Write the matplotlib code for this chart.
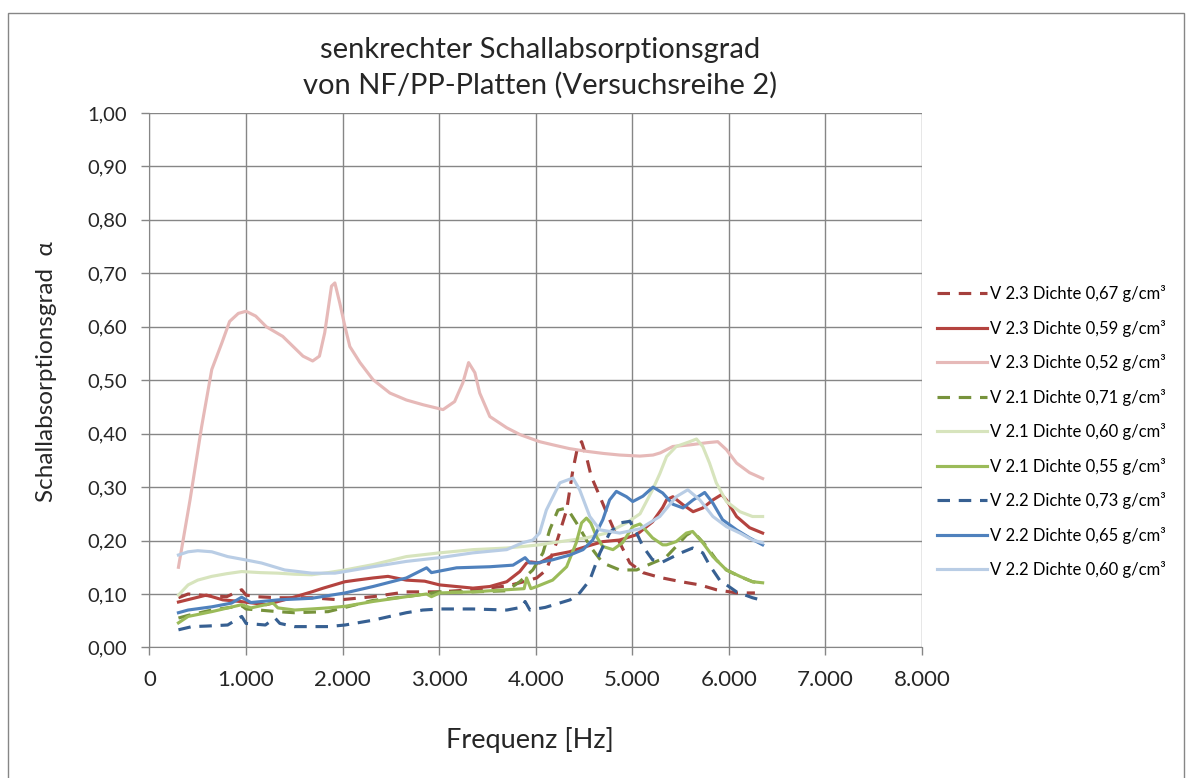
import matplotlib
matplotlib.use("Agg")
import matplotlib.pyplot as plt
from matplotlib.patches import Rectangle

# measured absorption coefficients (read per series: frequency in Hz, alpha)
f_v23_067 = [300, 400, 600, 800, 955, 1000, 1100, 1330, 1680, 1970, 2315, 2660, 3005, 3350,
             3700, 3835, 4010, 4110, 4215, 4320, 4385, 4435, 4475, 4525, 4575, 4665, 4765,
             4870, 4975, 5110, 5285, 5505, 5700, 5870, 6080, 6270]
a_v23_067 = [0.093, 0.100, 0.097, 0.095, 0.108, 0.098, 0.095, 0.093, 0.093, 0.089, 0.095, 0.104,
             0.104, 0.108, 0.115, 0.121, 0.130, 0.145, 0.196, 0.257, 0.332, 0.376, 0.385, 0.357,
             0.320, 0.282, 0.239, 0.196, 0.158, 0.140, 0.131, 0.123, 0.117, 0.108, 0.102, 0.102]

f_v23_059 = [300, 590, 760, 940, 1210, 1455, 1680, 1800, 2025, 2145, 2315, 2470, 2660, 2850,
             3005, 3350, 3525, 3700, 3835, 3905, 3950, 4040, 4180, 4350, 4525, 4695, 4870,
             5045, 5210, 5315, 5355, 5420, 5525, 5630, 5730, 5835, 5925, 5975, 6080, 6215, 6350]
a_v23_059 = [0.085, 0.098, 0.089, 0.086, 0.080, 0.092, 0.104, 0.111, 0.123, 0.126, 0.130, 0.133,
             0.126, 0.124, 0.117, 0.111, 0.114, 0.123, 0.142, 0.158, 0.160, 0.158, 0.173, 0.179,
             0.189, 0.198, 0.201, 0.211, 0.235, 0.262, 0.276, 0.282, 0.267, 0.254, 0.261, 0.276,
             0.286, 0.276, 0.245, 0.224, 0.214]

f_v23_052 = [300, 420, 540, 645, 750, 830, 920, 1000, 1100, 1210, 1380, 1590, 1690, 1760,
             1815, 1885, 1920, 1970, 2025, 2075, 2180, 2315, 2490, 2660, 2835, 3040, 3160,
             3245, 3305, 3370, 3420, 3525, 3700, 3840, 4040, 4180, 4350, 4525, 4700, 4870,
             5080, 5215, 5290, 5420, 5595, 5770, 5885, 5975, 6080, 6215, 6350]
a_v23_052 = [0.150, 0.276, 0.413, 0.520, 0.570, 0.610, 0.625, 0.629, 0.620, 0.600, 0.582, 0.545,
             0.536, 0.545, 0.589, 0.676, 0.682, 0.645, 0.600, 0.563, 0.533, 0.501, 0.476, 0.463,
             0.454, 0.445, 0.460, 0.495, 0.533, 0.514, 0.476, 0.432, 0.411, 0.398, 0.385, 0.379,
             0.372, 0.367, 0.363, 0.360, 0.358, 0.360, 0.364, 0.376, 0.379, 0.383, 0.385, 0.370,
             0.345, 0.327, 0.316]

f_v21_071 = [300, 400, 645, 955, 1000, 1330, 1500, 1850, 2315, 2660, 3005, 3350, 3700, 3835,
             3970, 4075, 4145, 4230, 4300, 4355, 4450, 4560, 4695, 4870, 5045, 5210, 5290,
             5355, 5455, 5560, 5625, 5690, 5770, 5870, 5975, 6110, 6245, 6350]
a_v21_071 = [0.055, 0.060, 0.070, 0.078, 0.072, 0.067, 0.065, 0.067, 0.088, 0.095, 0.104, 0.104,
             0.106, 0.123, 0.145, 0.177, 0.220, 0.257, 0.260, 0.252, 0.225, 0.190, 0.158, 0.145,
             0.145, 0.158, 0.164, 0.170, 0.189, 0.210, 0.217, 0.205, 0.189, 0.164, 0.145, 0.133,
             0.123, 0.120]

f_v21_060 = [300, 400, 500, 645, 800, 955, 1150, 1330, 1500, 1680, 1850, 2025, 2315, 2660,
             3005, 3350, 3700, 4040, 4180, 4525, 4735, 4940, 5080, 5210, 5285, 5355, 5455,
             5595, 5665, 5730, 5800, 5870, 5975, 6115, 6245, 6350]
a_v21_060 = [0.098, 0.117, 0.126, 0.133, 0.138, 0.142, 0.140, 0.139, 0.137, 0.136, 0.140, 0.145,
             0.155, 0.170, 0.177, 0.183, 0.186, 0.192, 0.196, 0.205, 0.214, 0.233, 0.250, 0.295,
             0.325, 0.357, 0.376, 0.385, 0.390, 0.376, 0.345, 0.308, 0.273, 0.254, 0.245, 0.245]

f_v21_055 = [300, 400, 645, 955, 1050, 1280, 1330, 1505, 1850, 2025, 2315, 2660, 2870, 2920,
             3005, 3350, 3700, 3880, 3905, 3950, 4010, 4175, 4320, 4420, 4475, 4525, 4570,
             4630, 4695, 4800, 4900, 5005, 5080, 5210, 5315, 5355, 5455, 5560, 5625, 5730,
             5835, 5975, 6115, 6245, 6350]
a_v21_055 = [0.046, 0.058, 0.067, 0.080, 0.074, 0.083, 0.074, 0.070, 0.074, 0.077, 0.086, 0.095,
             0.100, 0.095, 0.102, 0.104, 0.108, 0.110, 0.130, 0.110, 0.114, 0.126, 0.151, 0.196,
             0.233, 0.242, 0.233, 0.207, 0.189, 0.183, 0.196, 0.226, 0.231, 0.205, 0.192, 0.192,
             0.198, 0.214, 0.217, 0.196, 0.170, 0.145, 0.133, 0.123, 0.121]

f_v22_073 = [300, 440, 590, 810, 955, 1000, 1200, 1300, 1350, 1500, 1850, 2025, 2315, 2660,
             2830, 3005, 3350, 3700, 3850, 3890, 3940, 4100, 4355, 4455, 4560, 4665, 4765,
             4870, 4975, 5045, 5110, 5210, 5315, 5505, 5625, 5730, 5800, 5905, 6080, 6245, 6350]
a_v22_073 = [0.033, 0.039, 0.040, 0.042, 0.058, 0.045, 0.042, 0.055, 0.045, 0.039, 0.039, 0.042,
             0.051, 0.065, 0.070, 0.072, 0.072, 0.070, 0.075, 0.086, 0.070, 0.075, 0.089, 0.102,
             0.126, 0.177, 0.214, 0.233, 0.236, 0.214, 0.189, 0.164, 0.160, 0.177, 0.186, 0.177,
             0.154, 0.126, 0.104, 0.093, 0.088]

f_v22_065 = [300, 400, 645, 850, 955, 1050, 1330, 1680, 2025, 2315, 2660, 2870, 2920, 3180,
             3525, 3765, 3890, 3940, 4010, 4175, 4355, 4490, 4590, 4695, 4765, 4835, 4940,
             5005, 5110, 5215, 5315, 5420, 5525, 5630, 5750, 5835, 5935, 6080, 6215, 6350]
a_v22_065 = [0.065, 0.070, 0.076, 0.083, 0.094, 0.084, 0.089, 0.092, 0.102, 0.114, 0.130, 0.149,
             0.140, 0.149, 0.151, 0.154, 0.168, 0.158, 0.158, 0.164, 0.173, 0.183, 0.201, 0.239,
             0.276, 0.292, 0.282, 0.273, 0.283, 0.300, 0.289, 0.268, 0.261, 0.276, 0.290, 0.270,
             0.239, 0.220, 0.205, 0.192]

f_v22_060 = [300, 400, 500, 645, 810, 990, 1160, 1400, 1680, 1920, 2025, 2315, 2660, 3005,
             3350, 3700, 3865, 3970, 4040, 4110, 4250, 4385, 4455, 4560, 4665, 4870, 5080,
             5285, 5455, 5575, 5700, 5835, 5975, 6115, 6245, 6350]
a_v22_060 = [0.173, 0.179, 0.181, 0.179, 0.170, 0.164, 0.158, 0.145, 0.139, 0.139, 0.142, 0.151,
             0.161, 0.168, 0.177, 0.183, 0.196, 0.201, 0.214, 0.257, 0.308, 0.317, 0.295, 0.245,
             0.220, 0.214, 0.222, 0.245, 0.282, 0.295, 0.276, 0.245, 0.226, 0.214, 0.201, 0.196]

labels = ["V 2.3 Dichte 0,67 g/cm³", "V 2.3 Dichte 0,59 g/cm³", "V 2.3 Dichte 0,52 g/cm³",
          "V 2.1 Dichte 0,71 g/cm³", "V 2.1 Dichte 0,60 g/cm³", "V 2.1 Dichte 0,55 g/cm³",
          "V 2.2 Dichte 0,73 g/cm³", "V 2.2 Dichte 0,65 g/cm³", "V 2.2 Dichte 0,60 g/cm³"]

series = [
    (f_v23_067, a_v23_067, "#A5403D", True),
    (f_v23_059, a_v23_059, "#B4433F", False),
    (f_v23_052, a_v23_052, "#E6B9B8", False),
    (f_v21_071, a_v21_071, "#77933C", True),
    (f_v21_060, a_v21_060, "#D7E4BD", False),
    (f_v21_055, a_v21_055, "#9BBB59", False),
    (f_v22_073, a_v22_073, "#376092", True),
    (f_v22_065, a_v22_065, "#4F81BD", False),
    (f_v22_060, a_v22_060, "#B9CDE5", False),
]

plt.rcParams['font.family'] = ['Lato', 'DejaVu Sans']
grid_col = "#868686"
text_col = "#262626"

fig = plt.figure(figsize=(11.93, 7.78), dpi=100)
ax = fig.add_axes([0.1253, 0.1678, 0.6475, 0.687])

for (f, a, col, dashed), lab in zip(series, labels):
    line, = ax.plot(f, a, color=col, lw=2.25, label=lab, solid_joinstyle='round')
    if dashed:
        line.set_dashes([4, 2.8])

ax.set_xlim(0, 8000)
ax.set_ylim(0, 1.0)
ax.set_xticks(range(0, 8001, 1000))
ax.set_yticks([i / 10 for i in range(11)])
ax.xaxis.set_major_formatter(plt.FuncFormatter(lambda v, p: "{:,}".format(int(v)).replace(",", ".")))
ax.yaxis.set_major_formatter(plt.FuncFormatter(lambda v, p: "{:.2f}".format(v).replace(".", ",")))
ax.grid(color=grid_col, lw=1.0)
ax.set_axisbelow(True)
for side in ("top", "right"):
    ax.spines[side].set_visible(False)
for side in ("left", "bottom"):
    ax.spines[side].set_color(grid_col)
ax.tick_params(colors=grid_col, labelcolor=text_col, length=6, width=1)
ax.tick_params(axis="x", labelsize=16, pad=10)
ax.tick_params(axis="y", labelsize=14.5, pad=10)

ax.set_xlabel("Frequenz [Hz]", fontsize=19.5, color=text_col, va="center")
ax.xaxis.set_label_coords(0.492, -0.173)
ax.set_ylabel("Schallabsorptionsgrad  α", fontsize=17.5, color=text_col, va="center",
              family=['Lato', 'DejaVu Serif'])
ax.yaxis.set_label_coords(-0.133, 0.517)
fig.text(0.453, 0.913, "senkrechter Schallabsorptionsgrad\nvon NF/PP-Platten (Versuchsreihe 2)",
         ha="center", va="center", fontsize=21, color=text_col, linespacing=1.4)

ax.legend(loc="upper left", bbox_to_anchor=(0.7795, 0.642), bbox_transform=fig.transFigure,
          frameon=False, fontsize=12.0, handlelength=3.0, handletextpad=0.2,
          labelspacing=1.05, borderaxespad=0)

# outer chart frame
fig.patches.append(Rectangle((8 / 1193, -0.01), 1176 / 1193, 1 - 13 / 778 + 0.01,
                             transform=fig.transFigure, fill=False, ec=grid_col, lw=1.0))

fig.savefig("out.png", dpi=100)
